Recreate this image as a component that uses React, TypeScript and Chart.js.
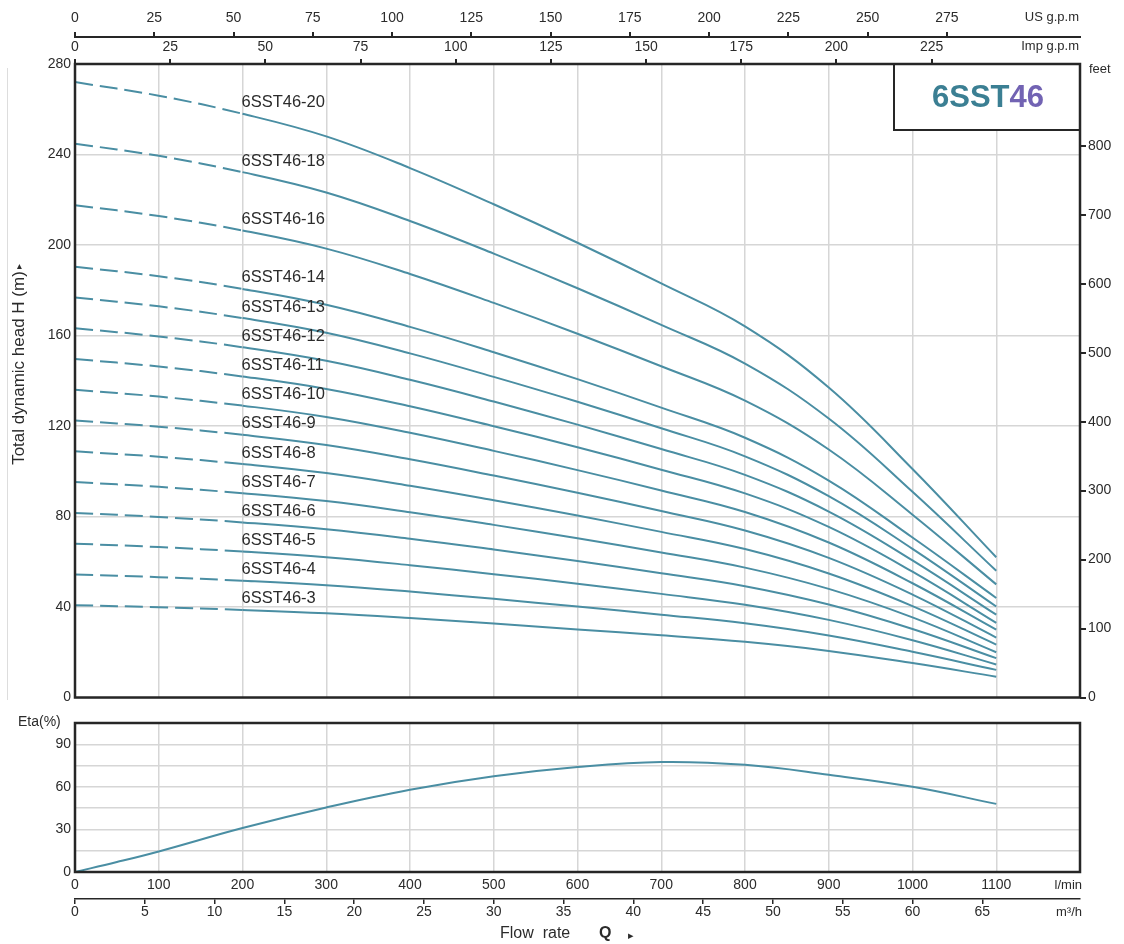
import React, { useEffect, useRef } from 'react';
import { Chart, registerables } from 'chart.js';

Chart.register(...registerables);

// ---------- data ----------
const FLOW_LPM = [0, 100, 200, 300, 400, 500, 600, 700, 800, 900, 1000, 1100];

const MODEL_NAMES = [
  '6SST46-20', '6SST46-18', '6SST46-16', '6SST46-14', '6SST46-13',
  '6SST46-12', '6SST46-11', '6SST46-10', '6SST46-9', '6SST46-8',
  '6SST46-7', '6SST46-6', '6SST46-5', '6SST46-4', '6SST46-3',
];

const HEAD_20 = [272, 266, 258, 248, 234, 218, 201, 183, 164, 137, 101, 62];
const HEAD_18 = [244.8, 239.4, 232.2, 223.2, 210.6, 196.2, 180.9, 164.7, 147.6, 123.3, 90.9, 56];
const HEAD_16 = [217.6, 212.8, 206.4, 198.4, 187.2, 174.4, 160.8, 146.4, 131.2, 109.6, 80.8, 50];
const HEAD_14 = [190.4, 186.2, 180.6, 173.6, 163.8, 152.6, 140.7, 128.1, 114.8, 95.9, 70.7, 44];
const HEAD_13 = [176.8, 172.9, 167.7, 161.2, 152.1, 141.7, 130.7, 119, 106.6, 89, 65.7, 40.2];
const HEAD_12 = [163.2, 159.6, 154.8, 148.8, 140.4, 130.8, 120.6, 109.8, 98.4, 82.2, 60.6, 36.6];
const HEAD_11 = [149.6, 146.3, 141.9, 136.4, 128.7, 119.9, 110.6, 100.7, 90.2, 75.4, 55.6, 33];
const HEAD_10 = [136, 133, 129, 124, 117, 109, 100.5, 91.5, 82, 68.5, 50.5, 30];
const HEAD_9 = [122.4, 119.7, 116.1, 111.6, 105.3, 98.1, 90.5, 82.4, 73.8, 61.7, 45.5, 26.5];
const HEAD_8 = [108.8, 106.4, 103.2, 99.2, 93.6, 87.2, 80.4, 73.2, 65.6, 54.8, 40.4, 23.4];
const HEAD_7 = [95.2, 93.1, 90.3, 86.8, 81.9, 76.3, 70.4, 64.1, 57.4, 48, 35.4, 20];
const HEAD_6 = [81.6, 79.8, 77.4, 74.4, 70.2, 65.4, 60.3, 54.9, 49.2, 41.1, 30.3, 17.4];
const HEAD_5 = [68, 66.5, 64.5, 62, 58.5, 54.5, 50.3, 45.8, 41, 34.3, 25.3, 14.6];
const HEAD_4 = [54.4, 53.2, 51.6, 49.6, 46.8, 43.6, 40.2, 36.6, 32.8, 27.4, 20.2, 12.2];
const HEAD_3 = [40.8, 39.9, 38.7, 37.2, 35.1, 32.7, 30.1, 27.5, 24.6, 20.6, 15.2, 9.2];

const HEADS = [
  HEAD_20, HEAD_18, HEAD_16, HEAD_14, HEAD_13, HEAD_12, HEAD_11, HEAD_10,
  HEAD_9, HEAD_8, HEAD_7, HEAD_6, HEAD_5, HEAD_4, HEAD_3,
];

const ETA_FLOW_LPM = [0, 50, 100, 200, 300, 400, 500, 600, 700, 800, 900, 1000, 1100];
const ETA_PCT = [0, 7, 14.5, 31, 45.5, 58, 67.5, 74, 77.5, 75.5, 68.5, 60, 48];

// axis ticks
const HEAD_TICKS_M = [0, 40, 80, 120, 160, 200, 240, 280];
const FEET_TICKS = [0, 100, 200, 300, 400, 500, 600, 700, 800];
const US_GPM_TICKS = [0, 25, 50, 75, 100, 125, 150, 175, 200, 225, 250, 275];
const IMP_GPM_TICKS = [0, 25, 50, 75, 100, 125, 150, 175, 200, 225];
const LPM_TICKS = [0, 100, 200, 300, 400, 500, 600, 700, 800, 900, 1000, 1100];
const M3H_TICKS = [0, 5, 10, 15, 20, 25, 30, 35, 40, 45, 50, 55, 60, 65];
const ETA_GRID_TICKS = [0, 15, 30, 45, 60, 75, 90, 105];
const ETA_LABEL_TICKS = [0, 30, 60, 90];

// units / ranges
const FLOW_MAX_LPM = 1200;
const HEAD_MAX_M = 280;
const ETA_MAX = 105;
const LPM_PER_US_GAL = 3.78541;
const LPM_PER_IMP_GAL = 4.54609;
const LPM_TO_M3H = 0.06;
const M_TO_FT = 3.28084;
const DASHED_UNTIL_LPM = 200;
const LABEL_AT_LPM = 200;

// ---------- styles ----------
const FONT = '"Liberation Sans", Arial, Helvetica, sans-serif';
const TEAL = '#4a8ea3';
const GRID = '#d6d6d6';
const AXIS = '#262626';
const TEXT = '#2b2b2b';

const plain = (v: any) => String(v);

const fixTicks = (vals: number[]) => (scale: any) => {
  scale.ticks = vals.map((v) => ({ value: v }));
};

const mainDecor = {
  id: 'mainDecor',
  afterDatasetsDraw(chart: any) {
    const { ctx, chartArea: a, scales } = chart;
    const xs = scales.x;
    const ys = scales.y;
    ctx.save();

    // model labels
    ctx.font = `16.5px ${FONT}`;
    ctx.fillStyle = TEXT;
    ctx.textAlign = 'left';
    ctx.textBaseline = 'middle';
    const idx = FLOW_LPM.indexOf(LABEL_AT_LPM);
    HEADS.forEach((h, i) => {
      ctx.fillText(MODEL_NAMES[i], xs.getPixelForValue(LABEL_AT_LPM) - 1, ys.getPixelForValue(h[idx]) - 11);
    });

    // title box
    const bx = 894;
    const by = a.top;
    const bh = 66;
    ctx.fillStyle = '#ffffff';
    ctx.fillRect(bx, by, a.right - bx, bh);
    ctx.strokeStyle = AXIS;
    ctx.lineWidth = 2;
    ctx.beginPath();
    ctx.moveTo(bx, by);
    ctx.lineTo(bx, by + bh);
    ctx.lineTo(a.right, by + bh);
    ctx.stroke();
    ctx.font = `bold 31px ${FONT}`;
    ctx.textBaseline = 'middle';
    const t1 = '6SST';
    const t2 = '46';
    const w1 = ctx.measureText(t1).width;
    const w2 = ctx.measureText(t2).width;
    const tx = 988 - (w1 + w2) / 2;
    ctx.fillStyle = '#3b7f93';
    ctx.fillText(t1, tx, 98);
    ctx.fillStyle = '#7263b3';
    ctx.fillText(t2, tx + w1, 98);

    // plot border
    ctx.strokeStyle = AXIS;
    ctx.lineWidth = 2.5;
    ctx.strokeRect(a.left, a.top, a.right - a.left, a.bottom - a.top);

    // unit labels
    ctx.fillStyle = TEXT;
    ctx.font = `13px ${FONT}`;
    ctx.textAlign = 'right';
    ctx.fillText('US g.p.m', 1079, 17);
    ctx.fillText('Imp g.p.m', 1079, 46);
    ctx.textAlign = 'left';
    ctx.fillText('feet', 1089, 69);

    // axis title
    ctx.save();
    ctx.translate(19, 362);
    ctx.rotate(-Math.PI / 2);
    const title = 'Total dynamic head H (m)';
    ctx.font = `17px ${FONT}`;
    const tw = ctx.measureText(title).width;
    ctx.textAlign = 'center';
    ctx.fillText(title, -6, 0);
    ctx.font = `10px ${FONT}`;
    ctx.textAlign = 'left';
    ctx.fillText('\u25B8', -6 + tw / 2 + 2, 0);
    ctx.restore();

    // faint page rule
    ctx.strokeStyle = '#dddddd';
    ctx.lineWidth = 1;
    ctx.beginPath();
    ctx.moveTo(7.5, 68);
    ctx.lineTo(7.5, 700);
    ctx.stroke();

    ctx.restore();
  },
};

const effDecor = {
  id: 'effDecor',
  afterDatasetsDraw(chart: any) {
    const { ctx, chartArea: a } = chart;
    ctx.save();
    ctx.strokeStyle = AXIS;
    ctx.lineWidth = 2.5;
    ctx.strokeRect(a.left, a.top, a.right - a.left, a.bottom - a.top);

    ctx.fillStyle = TEXT;
    ctx.textBaseline = 'middle';
    ctx.font = `14px ${FONT}`;
    ctx.textAlign = 'left';
    ctx.fillText('Eta(%)', 18, 12);
    ctx.font = `13px ${FONT}`;
    ctx.textAlign = 'right';
    ctx.fillText('l/min', 1082, 175);
    ctx.fillText('m\u00B3/h', 1082, 202);

    ctx.textAlign = 'left';
    ctx.font = `16px ${FONT}`;
    ctx.fillText('Flow  rate', 500, 224);
    ctx.font = `bold 16px ${FONT}`;
    ctx.fillText('Q', 599, 224);
    ctx.font = `11px ${FONT}`;
    ctx.fillText('\u25B8', 628, 226);
    ctx.restore();
  },
};

export default function App() {
  const mainRef = useRef<HTMLCanvasElement>(null);
  const effRef = useRef<HTMLCanvasElement>(null);

  useEffect(() => {
    const tickFont = { family: FONT, size: 14 };

    const main = new Chart(mainRef.current as HTMLCanvasElement, {
      type: 'line',
      data: {
        datasets: HEADS.map((h, i) => ({
          label: MODEL_NAMES[i],
          data: FLOW_LPM.map((q, j) => ({ x: q, y: h[j] })),
          borderColor: TEAL,
          borderWidth: 2,
          pointRadius: 0,
          tension: 0.4,
          xAxisID: 'x',
          yAxisID: 'y',
          segment: {
            borderDash: (c: any) => (c.p1.parsed.x <= DASHED_UNTIL_LPM ? [18, 7] : undefined),
          },
        })),
      },
      options: {
        responsive: false,
        animation: false,
        devicePixelRatio: 1,
        events: [],
        layout: { padding: { top: 6, left: 0, right: 0, bottom: 0 } },
        plugins: { legend: { display: false }, tooltip: { enabled: false }, title: { display: false } },
        scales: {
          x: {
            type: 'linear',
            position: 'bottom',
            min: 0,
            max: FLOW_MAX_LPM,
            weight: 0,
            ticks: { display: false, stepSize: 100 },
            grid: { color: GRID, lineWidth: 1.5, drawTicks: false },
            border: { display: false },
            afterFit: (s: any) => { s.height = 14.5; },
          },
          xImp: {
            type: 'linear',
            position: 'top',
            min: 0,
            max: FLOW_MAX_LPM / LPM_PER_IMP_GAL,
            weight: 1,
            afterBuildTicks: fixTicks(IMP_GPM_TICKS),
            ticks: { color: TEXT, font: tickFont, padding: 3, maxRotation: 0, autoSkip: false, callback: plain },
            grid: { drawOnChartArea: false, tickLength: 5, color: AXIS, lineWidth: 2 },
            border: { display: false },
            afterFit: (s: any) => { s.height = 27; },
          },
          xUs: {
            type: 'linear',
            position: 'top',
            min: 0,
            max: FLOW_MAX_LPM / LPM_PER_US_GAL,
            weight: 2,
            afterBuildTicks: fixTicks(US_GPM_TICKS),
            ticks: { color: TEXT, font: tickFont, padding: 5, maxRotation: 0, autoSkip: false, callback: plain },
            grid: { drawOnChartArea: false, tickLength: 5, color: AXIS, lineWidth: 2 },
            border: { display: true, color: AXIS, width: 2 },
            afterFit: (s: any) => { s.height = 31; },
          },
          y: {
            type: 'linear',
            position: 'left',
            min: 0,
            max: HEAD_MAX_M,
            afterBuildTicks: fixTicks(HEAD_TICKS_M),
            ticks: { color: TEXT, font: tickFont, padding: 4, callback: plain },
            grid: { color: GRID, lineWidth: 1.5, drawTicks: false },
            border: { display: false },
            afterFit: (s: any) => { s.width = 75; },
          },
          yFt: {
            type: 'linear',
            position: 'right',
            min: 0,
            max: HEAD_MAX_M * M_TO_FT,
            afterBuildTicks: fixTicks(FEET_TICKS),
            ticks: { color: TEXT, font: tickFont, padding: 2, callback: plain },
            grid: { drawOnChartArea: false, tickLength: 6, color: AXIS, lineWidth: 2 },
            border: { display: false },
            afterFit: (s: any) => { s.width = 44; },
          },
        },
      } as any,
      plugins: [mainDecor],
    });

    const eff = new Chart(effRef.current as HTMLCanvasElement, {
      type: 'line',
      data: {
        datasets: [
          {
            label: 'Eta',
            data: ETA_FLOW_LPM.map((q, j) => ({ x: q, y: ETA_PCT[j] })),
            borderColor: TEAL,
            borderWidth: 2,
            pointRadius: 0,
            tension: 0.4,
            xAxisID: 'x',
            yAxisID: 'y',
          },
        ],
      },
      options: {
        responsive: false,
        animation: false,
        devicePixelRatio: 1,
        events: [],
        layout: { padding: { top: 13, left: 0, right: 44, bottom: 24 } },
        plugins: { legend: { display: false }, tooltip: { enabled: false }, title: { display: false } },
        scales: {
          x: {
            type: 'linear',
            position: 'bottom',
            min: 0,
            max: FLOW_MAX_LPM,
            weight: 0,
            afterBuildTicks: fixTicks(LPM_TICKS),
            ticks: { color: TEXT, font: tickFont, padding: 5, maxRotation: 0, autoSkip: false, callback: plain },
            grid: { color: GRID, lineWidth: 1.5, drawTicks: false },
            border: { display: false },
            afterFit: (s: any) => { s.height = 27; },
          },
          xM3: {
            type: 'linear',
            position: 'bottom',
            min: 0,
            max: FLOW_MAX_LPM * LPM_TO_M3H,
            weight: 1,
            afterBuildTicks: fixTicks(M3H_TICKS),
            ticks: { color: TEXT, font: tickFont, padding: 0, maxRotation: 0, autoSkip: false, callback: plain },
            grid: { drawOnChartArea: false, tickLength: 5, color: AXIS, lineWidth: 1.5 },
            border: { display: true, color: AXIS, width: 1.5 },
            afterFit: (s: any) => { s.height = 21; },
          },
          y: {
            type: 'linear',
            position: 'left',
            min: 0,
            max: ETA_MAX,
            afterBuildTicks: fixTicks(ETA_GRID_TICKS),
            ticks: {
              color: TEXT,
              font: tickFont,
              padding: 4,
              callback: (v: any) => (ETA_LABEL_TICKS.includes(Number(v)) ? String(v) : ''),
            },
            grid: { color: GRID, lineWidth: 1.5, drawTicks: false },
            border: { display: false },
            afterFit: (s: any) => { s.width = 75; },
          },
        },
      } as any,
      plugins: [effDecor],
    });

    return () => {
      main.destroy();
      eff.destroy();
    };
  }, []);

  return (
    <div style={{ position: 'absolute', left: 0, top: 0, width: 1124, height: 944, background: '#ffffff' }}>
      <canvas ref={mainRef} width={1124} height={712} style={{ position: 'absolute', left: 0, top: 0 }} />
      <canvas ref={effRef} width={1124} height={234} style={{ position: 'absolute', left: 0, top: 710 }} />
    </div>
  );
}
